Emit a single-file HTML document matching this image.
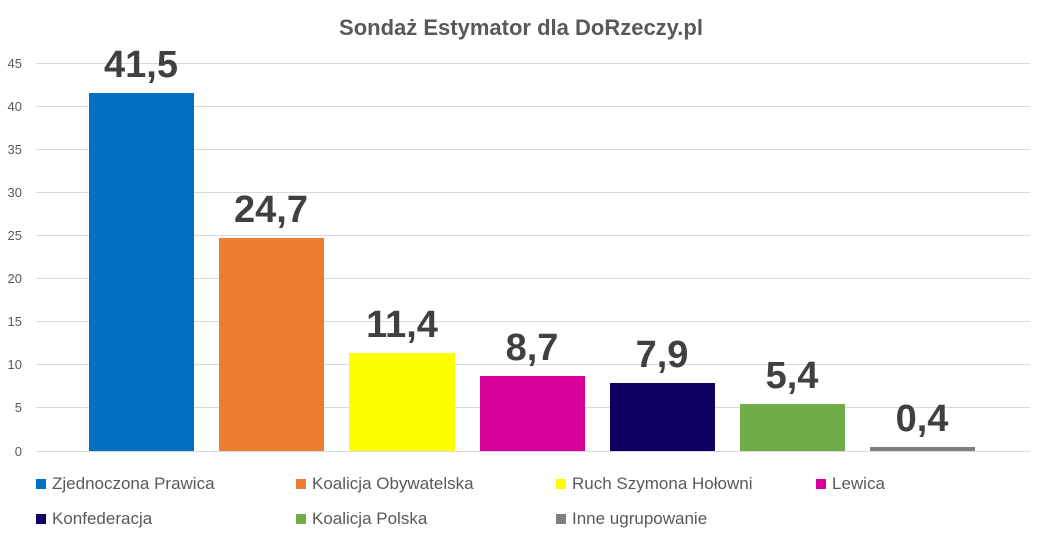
<!DOCTYPE html>
<html><head><meta charset="utf-8"><style>
body{margin:0;background:#fff;width:1043px;height:544px;overflow:hidden;font-family:"Liberation Sans",sans-serif;}
</style></head><body>
<svg width="1043" height="544" xmlns="http://www.w3.org/2000/svg" font-family="Liberation Sans, sans-serif">
<rect width="1043" height="544" fill="#fff"/>
<text x="521" y="35" text-anchor="middle" font-size="22" font-weight="bold" fill="#595959">Sondaż Estymator dla DoRzeczy.pl</text>
<g stroke="#d9d9d9" stroke-width="1">
<line x1="36" x2="1030" y1="63.5" y2="63.5"/><line x1="36" x2="1030" y1="106.5" y2="106.5"/>
<line x1="36" x2="1030" y1="149.5" y2="149.5"/><line x1="36" x2="1030" y1="192.5" y2="192.5"/>
<line x1="36" x2="1030" y1="235.5" y2="235.5"/><line x1="36" x2="1030" y1="278.5" y2="278.5"/>
<line x1="36" x2="1030" y1="321.5" y2="321.5"/><line x1="36" x2="1030" y1="364.5" y2="364.5"/>
<line x1="36" x2="1030" y1="407.5" y2="407.5"/><line x1="36" x2="1030" y1="451.5" y2="451.5"/>
</g>
<g font-size="13" fill="#595959" text-anchor="end">
<text x="22" y="68">45</text><text x="22" y="111">40</text><text x="22" y="154">35</text>
<text x="22" y="197">30</text><text x="22" y="240">25</text><text x="22" y="283">20</text>
<text x="22" y="326">15</text><text x="22" y="369">10</text><text x="22" y="412">5</text><text x="22" y="456">0</text>
</g>
<rect x="89" y="93" width="105" height="358" fill="#0070c0"/>
<rect x="219" y="238" width="105" height="213" fill="#ed7d31"/>
<rect x="349" y="353" width="106" height="98" fill="#ffff00"/>
<rect x="480" y="376" width="105" height="75" fill="#d6009a"/>
<rect x="610" y="383" width="105" height="68" fill="#0e0063"/>
<rect x="740" y="404" width="105" height="47" fill="#70ad47"/>
<rect x="870" y="447" width="105" height="4" fill="#808080"/>
<g font-size="38" font-weight="bold" fill="#404040" text-anchor="middle">
<text x="141" y="77">41,5</text><text x="271" y="222">24,7</text><text x="402" y="337">11,4</text>
<text x="532" y="360">8,7</text><text x="662" y="367">7,9</text><text x="792" y="388">5,4</text>
<text x="922" y="431">0,4</text>
</g>
<g font-size="17" fill="#595959">
<rect x="36" y="479" width="10" height="10" fill="#0070c0"/><text x="52" y="489">Zjednoczona Prawica</text>
<rect x="296" y="479" width="10" height="10" fill="#ed7d31"/><text x="312" y="489">Koalicja Obywatelska</text>
<rect x="556" y="479" width="10" height="10" fill="#ffff00"/><text x="572" y="489">Ruch Szymona Hołowni</text>
<rect x="816" y="479" width="10" height="10" fill="#d6009a"/><text x="832" y="489">Lewica</text>
<rect x="36" y="514" width="10" height="10" fill="#0e0063"/><text x="52" y="524">Konfederacja</text>
<rect x="296" y="514" width="10" height="10" fill="#70ad47"/><text x="312" y="524">Koalicja Polska</text>
<rect x="556" y="514" width="10" height="10" fill="#808080"/><text x="572" y="524">Inne ugrupowanie</text>
</g>
</svg>
</body></html>
